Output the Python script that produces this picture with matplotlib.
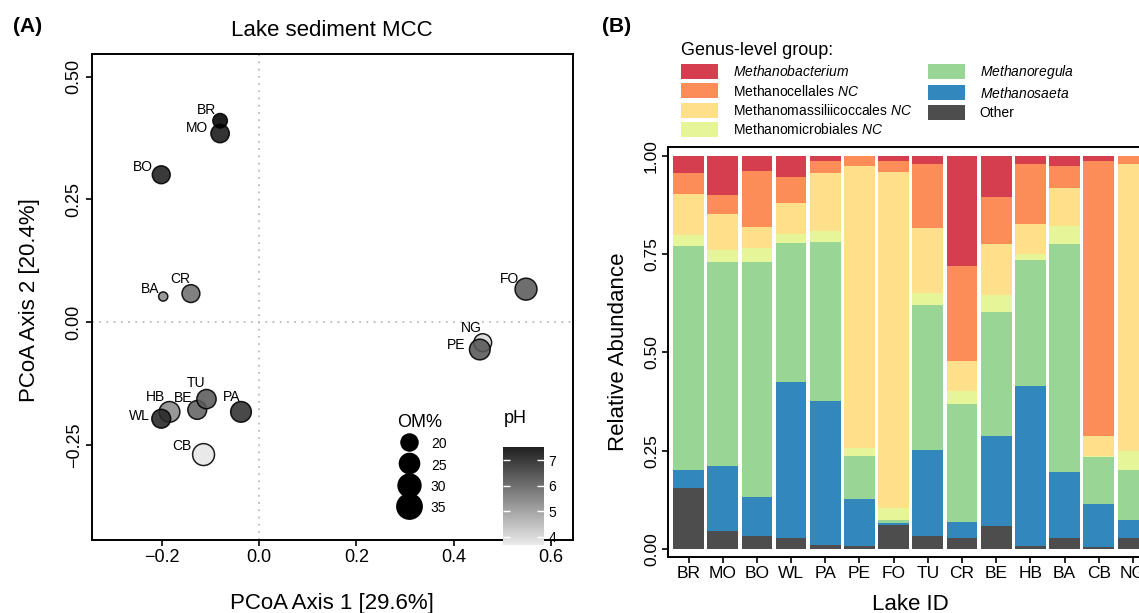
import numpy as np
import matplotlib
matplotlib.use("Agg")
import matplotlib.pyplot as plt
from matplotlib.colors import LinearSegmentedColormap, Normalize
from matplotlib.cm import ScalarMappable
from matplotlib.lines import Line2D
from matplotlib.patches import Patch

plt.rcParams['font.family'] = ['Liberation Sans', 'DejaVu Sans']
plt.rcParams['mathtext.fontset'] = 'custom'
plt.rcParams['mathtext.rm'] = 'Liberation Sans'
plt.rcParams['mathtext.it'] = 'Liberation Sans:italic'

# ---- panel A data (PCoA) ----
lakes_pcoa = ['BO', 'MO', 'BR', 'BA', 'CR', 'FO', 'NG', 'PE', 'BE', 'TU', 'HB', 'WL', 'PA', 'CB']
axis1 = [-0.201, -0.080, -0.080, -0.197, -0.140, 0.549, 0.460, 0.454, -0.127, -0.108, -0.184, -0.201, -0.037, -0.114]
axis2 = [0.300, 0.384, 0.410, 0.052, 0.058, 0.067, -0.042, -0.056, -0.179, -0.157, -0.183, -0.197, -0.183, -0.270]
om_pct = [24, 25, 18, 11, 24, 33, 24, 30, 26, 27, 30, 26, 30, 33]
ph = [7.0, 7.14, 7.52, 5.22, 5.68, 6.03, 3.94, 6.10, 5.87, 6.03, 5.22, 6.89, 6.71, 3.70]
# label offsets from point centre, pixels (right edge, baseline)
lab_dx = [-8, -11.7, -4, -4, -1, -7.3, -1, -14.7, -4.6, -0.7, -4, -11, -1, -11.6]
lab_dy = [-4, -1.4, -7, -4, -11, -6.6, -11, -1, -8, -11.7, -10.7, 1.3, -11, -4.7]
om_legend = [20, 25, 30, 35]
ph_ticks = [4, 5, 6, 7]

# ---- panel B data (relative abundance) ----
lakes_bar = ['BR', 'MO', 'BO', 'WL', 'PA', 'PE', 'FO', 'TU', 'CR', 'BE', 'HB', 'BA', 'CB', 'NG']
other = [0.156, 0.047, 0.034, 0.029, 0.011, 0.008, 0.062, 0.034, 0.029, 0.059, 0.008, 0.029, 0.006, 0.029]
methanosaeta = [0.046, 0.165, 0.099, 0.396, 0.366, 0.120, 0.005, 0.219, 0.040, 0.229, 0.407, 0.168, 0.109, 0.046]
methanoregula = [0.569, 0.519, 0.598, 0.354, 0.404, 0.109, 0.008, 0.368, 0.300, 0.315, 0.321, 0.579, 0.120, 0.127]
methanomicrobiales = [0.028, 0.030, 0.035, 0.023, 0.028, 0.021, 0.030, 0.031, 0.034, 0.044, 0.015, 0.046, 0.002, 0.048]
methanomassilii = [0.104, 0.092, 0.053, 0.079, 0.148, 0.717, 0.854, 0.165, 0.076, 0.129, 0.076, 0.097, 0.051, 0.730]
methanocellales = [0.054, 0.048, 0.143, 0.066, 0.030, 0.025, 0.028, 0.163, 0.241, 0.120, 0.153, 0.056, 0.699, 0.020]
methanobacterium = [0.043, 0.099, 0.038, 0.053, 0.013, 0.000, 0.013, 0.020, 0.280, 0.104, 0.020, 0.025, 0.013, 0.000]

stack = [other, methanosaeta, methanoregula, methanomicrobiales, methanomassilii, methanocellales, methanobacterium]
stack_colors = ['#4D4D4D', '#3288BD', '#99D594', '#E6F598', '#FEE08B', '#FC8D59', '#D53E4F']
legend_order = [6, 5, 4, 3, 2, 1, 0]
legend_labels = [r'Other', r'$\it{Methanosaeta}$', r'$\it{Methanoregula}$',
                 r'Methanomicrobiales $\it{NC}$', r'Methanomassiliicoccales $\it{NC}$',
                 r'Methanocellales $\it{NC}$', r'$\it{Methanobacterium}$']

W, H = 1139, 613
fig = plt.figure(figsize=(W / 100, H / 100), dpi=100)

def px_box(l, t, r, b):
    return [l / W, 1 - b / H, (r - l) / W, (b - t) / H]

def om_to_pt(v):
    d = np.sqrt(np.maximum(18.0 * np.asarray(v, float) - 114.0, 4.0))
    return d * 0.72

# ---------------- panel A ----------------
ax = fig.add_axes(px_box(91.7, 54, 572.7, 540))
cmap = LinearSegmentedColormap.from_list('ph', ['#E8E8E8', '#000000'])
norm = Normalize(3.68, 7.52)
ax.axvline(0, color='#BBBBBB', ls=(0, (1, 3)), lw=1.3, zorder=1)
ax.axhline(0, color='#BBBBBB', ls=(0, (1, 3)), lw=1.3, zorder=1)
ax.scatter(axis1, axis2, s=om_to_pt(om_pct) ** 2, c=ph, cmap=cmap, norm=norm,
           alpha=0.88, edgecolors='black', linewidths=1.1, zorder=3)
for i, name in enumerate(lakes_pcoa):
    ax.annotate(name, (axis1[i], axis2[i]), xytext=(lab_dx[i] * 0.72, -lab_dy[i] * 0.72),
                textcoords='offset points', ha='right', va='baseline', fontsize=10, zorder=4)
ax.set_xlim(-0.344, 0.645)
ax.set_ylim(-0.444, 0.546)
ax.set_xticks([-0.2, 0.0, 0.2, 0.4, 0.6])
ax.set_yticks([-0.25, 0.0, 0.25, 0.5])
ax.tick_params(length=4.5, width=1.2, labelsize=13, pad=2, colors='black')
for t in ax.get_yticklabels():
    t.set_rotation(90)
    t.set_va('center')
for sp in ax.spines.values():
    sp.set_linewidth(1.4)

handles = [Line2D([], [], marker='o', ls='', color='black', markeredgewidth=0,
                  markersize=om_to_pt(v) * 1.18) for v in om_legend]
leg = ax.legend(handles, [str(v) for v in om_legend], title='OM%', loc='upper left',
                bbox_to_anchor=(0.62, 0.274), frameon=False, borderpad=0, fontsize=10,
                title_fontsize=13, handleheight=1.5, labelspacing=0.32, handlelength=1.75,
                handletextpad=0.7, alignment='left')

cax = fig.add_axes(px_box(503.3, 446.7, 544, 545))
cb = fig.colorbar(ScalarMappable(norm=norm, cmap=cmap), cax=cax, alpha=0.88)
cb.outline.set_visible(False)
cb.set_ticks(ph_ticks)
cax.tick_params(axis='y', direction='in', left=True, right=True, color='white',
                length=5, width=1.0, labelsize=10, pad=3)
cax.set_title('pH', loc='left', fontsize=13, pad=17)

fig.text(331.5 / W, 1 - 30 / H, 'Lake sediment MCC', ha='center', va='center', fontsize=16)
fig.text(331.5 / W, 1 - 603 / H, 'PCoA Axis 1 [29.6%]', ha='center', va='center', fontsize=16)
fig.text(30 / W, 1 - 300 / H, 'PCoA Axis 2 [20.4%]', ha='center', va='center', rotation=90, fontsize=16)
fig.text(28 / W, 1 - 27 / H, '(A)', ha='center', va='center', fontsize=15, fontweight='bold')

# ---------------- panel B ----------------
bx = fig.add_axes(px_box(668, 147, 1153.5, 557))
xpos = np.arange(len(lakes_bar))
bottom = np.zeros(len(lakes_bar))
for vals, col in zip(stack, stack_colors):
    bx.bar(xpos, vals, bottom=bottom, width=0.9, color=col, linewidth=0)
    bottom = bottom + np.asarray(vals)
bx.set_xlim(-0.6, len(lakes_bar) - 0.4)
bx.set_ylim(-0.0204, 1.0229)
bx.set_xticks(xpos)
bx.set_xticklabels(lakes_bar)
bx.set_yticks([0, 0.25, 0.5, 0.75, 1.0])
bx.set_yticklabels(['0.00', '0.25', '0.50', '0.75', '1.00'])
bx.tick_params(length=4.5, width=1.2, labelsize=12.5, pad=2, colors='black')
for t in bx.get_yticklabels():
    t.set_rotation(90)
    t.set_va('center')
for sp in bx.spines.values():
    sp.set_linewidth(1.4)

fig.text(910 / W, 1 - 604 / H, 'Lake ID', ha='center', va='center', fontsize=16)
fig.text(619 / W, 1 - 352 / H, 'Relative Abundance', ha='center', va='center', rotation=90, fontsize=16)
fig.text(617 / W, 1 - 27 / H, '(B)', ha='center', va='center', fontsize=15, fontweight='bold')

gen_handles = [Patch(facecolor=stack_colors[i], edgecolor='none') for i in legend_order]
gen_labels = [legend_labels[i] for i in legend_order]
fig.legend(gen_handles, gen_labels, title='Genus-level group:', ncol=2, loc='upper left',
           bbox_to_anchor=(681 / W, 1 - 42 / H), frameon=False, borderpad=0, fontsize=10,
           title_fontsize=13, handlelength=2.66, handleheight=1.3, labelspacing=0.3,
           handletextpad=1.08, columnspacing=1.1, alignment='left', borderaxespad=0)

fig.savefig('out.png', dpi=100)
